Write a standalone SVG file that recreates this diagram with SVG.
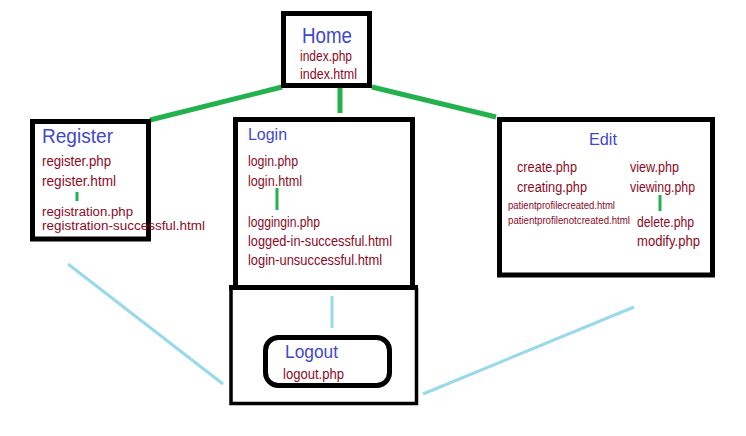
<svg xmlns="http://www.w3.org/2000/svg" width="746" height="436" viewBox="0 0 746 436">
<style>
.box{fill:none;stroke:#000;stroke-width:5}
.thin{fill:none;stroke:#000;stroke-width:3.5}
.g{stroke:#22b14c;stroke-width:5;fill:none}
.gt{stroke:#22b14c;stroke-width:3;fill:none}
.lb{stroke:#99d9ea;stroke-width:3;fill:none}
text{font-family:"Liberation Sans",Arial,sans-serif}
.t{fill:#3f48cc}
.f{fill:#8c0a1e;font-size:14px}
.r{fill:#8c0a1e;font-size:12.5px}
.s{fill:#8c0a1e;font-size:10px}
</style>
<rect width="746" height="436" fill="#fff"/>
<g id="connectors">
<line class="g" x1="282" y1="87" x2="150" y2="120"/>
<line class="g" x1="340" y1="88" x2="340" y2="113"/>
<line class="g" x1="372" y1="87" x2="496" y2="117"/>
<line class="lb" x1="68" y1="264" x2="223" y2="384"/>
<line class="lb" x1="423" y1="394" x2="634" y2="307"/>
<line class="lb" x1="332" y1="296" x2="332" y2="328"/>
</g>
<g id="home">
<rect class="box" x="283.5" y="13.5" width="86" height="72"/>
<text class="t" x="302" y="43" font-size="22" textLength="50" lengthAdjust="spacingAndGlyphs">Home</text>
<text class="f" x="300" y="61" textLength="52" lengthAdjust="spacingAndGlyphs">index.php</text>
<text class="f" x="300" y="79" textLength="57" lengthAdjust="spacingAndGlyphs">index.html</text>
</g>
<g id="register">
<rect class="box" x="32.5" y="121.5" width="116" height="117.5"/>
<text class="t" x="42" y="143" font-size="20" textLength="71" lengthAdjust="spacingAndGlyphs">Register</text>
<text class="f" x="42" y="166" textLength="69" lengthAdjust="spacingAndGlyphs">register.php</text>
<text class="f" x="42" y="186" textLength="74" lengthAdjust="spacingAndGlyphs">register.html</text>
<line class="gt" x1="77" y1="192" x2="77" y2="201"/>
<text class="r" x="42" y="216" textLength="91" lengthAdjust="spacingAndGlyphs">registration.php</text>
<text class="r" x="42" y="230" textLength="163" lengthAdjust="spacingAndGlyphs">registration-successful.html</text>
</g>
<g id="logout">
<path class="thin" d="M231,287.5 V403.5 H416.5 V287.5"/>
<line class="box" x1="229" y1="287.5" x2="418" y2="287.5"/>
<rect class="box" x="265.5" y="337.5" width="124" height="48" rx="13"/>
<text class="t" x="285" y="358" font-size="18" textLength="53" lengthAdjust="spacingAndGlyphs">Logout</text>
<text class="f" x="283" y="379" textLength="61" lengthAdjust="spacingAndGlyphs">logout.php</text>
</g>
<g id="login">
<rect class="box" x="235.5" y="119.5" width="177" height="168"/>
<text class="t" x="248" y="140" font-size="17" textLength="39" lengthAdjust="spacingAndGlyphs">Login</text>
<text class="f" x="248" y="166" textLength="50" lengthAdjust="spacingAndGlyphs">login.php</text>
<text class="f" x="248" y="186" textLength="54" lengthAdjust="spacingAndGlyphs">login.html</text>
<line class="gt" x1="277" y1="188" x2="277" y2="210"/>
<text class="f" x="248" y="227" textLength="72" lengthAdjust="spacingAndGlyphs">loggingin.php</text>
<text class="f" x="248" y="246" textLength="144" lengthAdjust="spacingAndGlyphs">logged-in-successful.html</text>
<text class="f" x="248" y="265" textLength="134" lengthAdjust="spacingAndGlyphs">login-unsuccessful.html</text>
</g>
<g id="edit">
<rect class="box" x="499.5" y="119.5" width="213" height="155.5"/>
<text class="t" x="589" y="145" font-size="17" textLength="28" lengthAdjust="spacingAndGlyphs">Edit</text>
<text class="f" x="517" y="172" textLength="60" lengthAdjust="spacingAndGlyphs">create.php</text>
<text class="f" x="517" y="192" textLength="70" lengthAdjust="spacingAndGlyphs">creating.php</text>
<text class="s" x="508" y="209" textLength="107" lengthAdjust="spacingAndGlyphs">patientprofilecreated.html</text>
<text class="s" x="508" y="224" textLength="122" lengthAdjust="spacingAndGlyphs">patientprofilenotcreated.html</text>
<text class="f" x="630" y="172" textLength="49" lengthAdjust="spacingAndGlyphs">view.php</text>
<text class="f" x="630" y="192" textLength="65" lengthAdjust="spacingAndGlyphs">viewing.php</text>
<line class="gt" x1="660" y1="195" x2="660" y2="211"/>
<text class="f" x="637" y="227" textLength="57" lengthAdjust="spacingAndGlyphs">delete.php</text>
<text class="f" x="637" y="246" textLength="63" lengthAdjust="spacingAndGlyphs">modify.php</text>
</g>
</svg>
